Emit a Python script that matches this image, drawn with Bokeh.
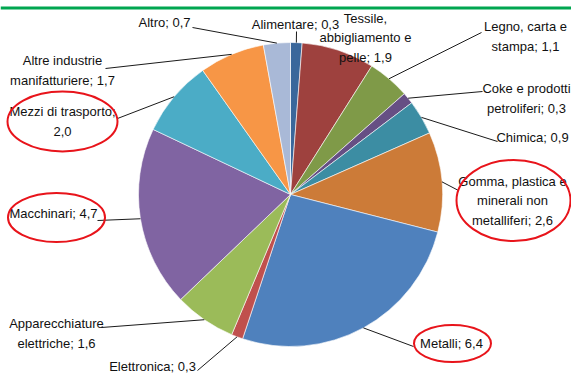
import numpy as np
from bokeh.plotting import figure
from bokeh.models import Range1d, ColumnDataSource
from bokeh.core.properties import value
from bokeh.embed import file_html
from bokeh.resources import INLINE

# ---------------- data ----------------
categories = ["Alimentare", "Tessile, abbigliamento e pelle", "Legno, carta e stampa",
              "Coke e prodotti petroliferi", "Chimica",
              "Gomma, plastica e minerali non metalliferi", "Metalli", "Elettronica",
              "Apparecchiature elettriche", "Macchinari", "Mezzi di trasporto",
              "Altre industrie manifatturiere", "Altro"]
values = [0.3, 1.9, 1.1, 0.3, 0.9, 2.6, 6.4, 0.3, 1.6, 4.7, 2.0, 1.7, 0.7]
labels = ["Alimentare; 0,3", "Tessile,\nabbigliamento e\npelle; 1,9", "Legno, carta e\nstampa; 1,1",
          "Coke e prodotti\npetroliferi; 0,3", "Chimica; 0,9",
          "Gomma, plastica e\nminerali non\nmetalliferi; 2,6", "Metalli; 6,4", "Elettronica; 0,3",
          "Apparecchiature\nelettriche; 1,6", "Macchinari; 4,7", "Mezzi di trasporto;\n2,0",
          "Altre industrie\nmanifatturiere; 1,7", "Altro; 0,7"]
highlighted = ["Mezzi di trasporto", "Macchinari",
               "Gomma, plastica e minerali non metalliferi", "Metalli"]

# ---------------- style / layout ----------------
colors = ["#3A679B", "#9E413E", "#7F9A48", "#664F84", "#3C8DA3", "#CC7B38", "#4F81BD",
          "#C0504D", "#9BBB59", "#8064A2", "#4BACC6", "#F79646", "#A9B9D7"]
W, H = 571, 374
CX, CY, R = 290, 194, 152   # pie centre / radius in image pixels (y down)
FONT = "Liberation Sans"

# label centres (image px)
label_pos = [(295, 24), (365, 37), (525, 36), (526, 98), (532, 137), (512, 200),
             (451, 343), (152, 366), (56, 333), (53, 213), (62, 121), (62, 70), (164, 22)]
# leader end near label (None = no leader)
leader_end = [(296, 31), None, (481, 32), (482, 91), (497, 141), (458, 190),
              (413, 346), (197, 370), (101, 327), (97, 220), (117, 118), (105, 68), (192, 27)]
# ellipses: centre x, centre y, width, height
ellipse_layout = {"Mezzi di trasporto": (62, 121, 110, 60),
                  "Macchinari": (56, 217, 97, 49),
                  "Gomma, plastica e minerali non metalliferi": (513, 200, 114, 81),
                  "Metalli": (452, 343, 77, 37)}


def Y(y):
    return H - y


total = sum(values)
fr = np.array(values) / total * 2 * np.pi
cum_end = np.cumsum(fr)
cum_start = cum_end - fr
mid = (cum_start + cum_end) / 2

p = figure(width=W, height=H, x_range=Range1d(0, W), y_range=Range1d(0, H),
           output_backend="svg", toolbar_location=None, min_border=0,
           outline_line_color=None, background_fill_color="white")
p.axis.visible = False
p.grid.visible = False

# top green rule
p.quad(left=0, right=W, bottom=Y(9), top=Y(6), color="#00A650", line_color=None)

src = ColumnDataSource(dict(start=np.pi / 2 - cum_end, end=np.pi / 2 - cum_start,
                            color=colors, cat=categories))
p.wedge(x=CX, y=Y(CY), radius=R, start_angle="start", end_angle="end",
        direction="anticlock", fill_color="color", line_color="white",
        line_width=0.6, source=src)

# leader lines
xs, ys = [], []
for i, m in enumerate(mid):
    if leader_end[i] is None:
        continue
    px = CX + R * np.sin(m)
    py = CY - R * np.cos(m)
    ex, ey = leader_end[i]
    xs.append([px, ex])
    ys.append([Y(py), Y(ey)])
p.multi_line(xs=xs, ys=ys, line_color="black", line_width=0.9)

# labels
tx = [lp[0] for lp in label_pos]
ty = [Y(lp[1]) for lp in label_pos]
p.text(x=tx, y=ty, text=labels, text_align="center", text_baseline="middle",
       text_font=value(FONT), text_font_size="13px", text_color="#111111",
       text_line_height=1.3)

# red ellipses around highlighted labels
ex = [ellipse_layout[c][0] for c in highlighted]
ey = [Y(ellipse_layout[c][1]) for c in highlighted]
ew = [ellipse_layout[c][2] for c in highlighted]
eh = [ellipse_layout[c][3] for c in highlighted]
p.ellipse(x=ex, y=ey, width=ew, height=eh, fill_color=None, line_color="#E8141B",
          line_width=2)

open("out.html", "w").write(file_html(p, INLINE))
